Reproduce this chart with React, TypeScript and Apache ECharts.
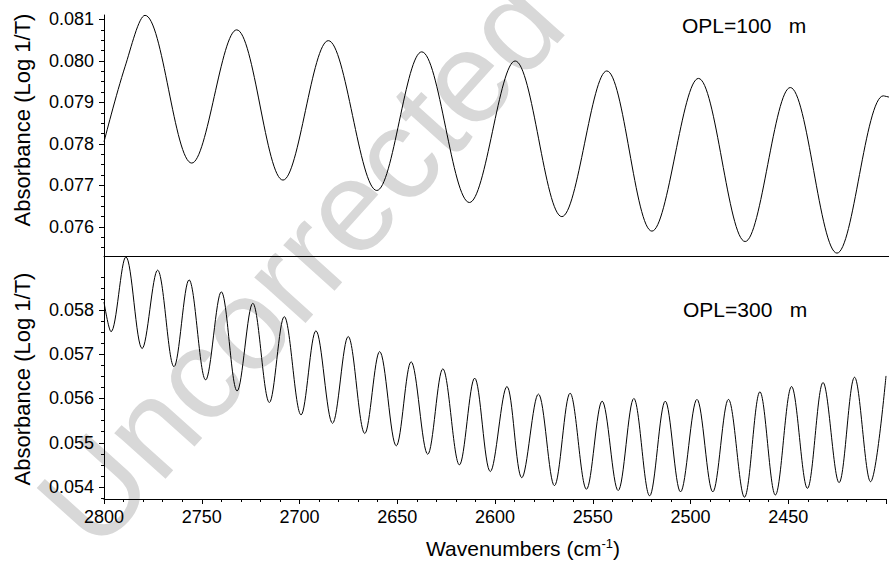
import React, { useEffect, useRef } from "react";
import * as echarts from "echarts";

// ---- data ----
const topWavenumbers = [
  2800.0, 2789.3, 2779.1, 2755.3, 2732.4, 2708.8, 2685.7, 2661.0, 2638.1, 2613.8,
  2590.5, 2566.7, 2543.8, 2520.8, 2497.1, 2473.3, 2450.3, 2426.5, 2402.9, 2400.0,
];
const topAbsorbance = [
  0.07805, 0.07986, 0.0811, 0.07754, 0.08075, 0.07713, 0.08049, 0.07688, 0.08022, 0.07659,
  0.08, 0.07625, 0.07976, 0.0759, 0.07958, 0.07565, 0.07936, 0.07537, 0.07916, 0.07913,
];
const bottomWavenumbers = [
  2800.0, 2796.4, 2788.8, 2780.5, 2772.6, 2764.2, 2756.5, 2748.0, 2740.0, 2731.9,
  2723.9, 2715.4, 2707.8, 2699.2, 2691.6, 2683.1, 2675.1, 2666.6, 2659.0, 2650.5,
  2642.9, 2634.4, 2626.7, 2618.2, 2610.4, 2602.4, 2593.9, 2586.3, 2577.8, 2569.6,
  2561.6, 2553.2, 2545.2, 2537.0, 2529.0, 2520.9, 2512.9, 2505.1, 2496.7, 2488.6,
  2480.6, 2472.4, 2464.5, 2456.6, 2448.3, 2440.2, 2432.2, 2424.0, 2416.1, 2407.9,
  2400.0,
];
const bottomAbsorbance = [
  0.05818, 0.05751, 0.0592, 0.05713, 0.0589, 0.05672, 0.05868, 0.05642, 0.05841, 0.05617,
  0.05815, 0.05591, 0.05785, 0.05563, 0.05753, 0.05544, 0.0574, 0.05521, 0.05706, 0.05493,
  0.05683, 0.05474, 0.05667, 0.0545, 0.05646, 0.05435, 0.05627, 0.05421, 0.0561, 0.05403,
  0.05612, 0.05395, 0.05594, 0.05392, 0.056, 0.0538, 0.05594, 0.05389, 0.05598, 0.05389,
  0.05598, 0.05377, 0.05615, 0.05382, 0.05627, 0.05397, 0.05636, 0.0541, 0.05648, 0.05412,
  0.05651,
];
const topYTicks = [0.076, 0.077, 0.078, 0.079, 0.08, 0.081];
const bottomYTicks = [0.054, 0.055, 0.056, 0.057, 0.058];
const xRange = [2400, 2800];
const topYRange = [0.075301, 0.081108];
const bottomYRange = [0.053729, 0.05922];
const yAxisTitle = "Absorbance (Log 1/T)";
const panelLabels = ["OPL=100   m", "OPL=300   m"];
const watermarkText = "Uncorrected";

const FONT = "'Liberation Sans', Arial, Helvetica, sans-serif";

function minorValues(range: number[], step: number): number[] {
  const out: number[] = [];
  for (let k = Math.ceil(range[0] / step - 1e-9); k * step <= range[1] + 1e-12; k++) {
    if (k % 4 === 0) continue;
    out.push(+(k * step).toFixed(6));
  }
  return out;
}

export default function App() {
  const ref = useRef<HTMLDivElement>(null);
  useEffect(() => {
    document.body.style.margin = "0";
    if (!ref.current) return;
    const chart = echarts.init(ref.current, undefined, { renderer: "svg" });
    const labelStyle = { color: "#000", fontSize: 18, fontFamily: FONT };
    const yMajor = (gridIndex: number, range: number[], ticks: number[]) => ({
      type: "value",
      gridIndex,
      min: range[0],
      max: range[1],
      position: "left",
      axisLine: { show: true, lineStyle: { color: "#000", width: 1 } },
      axisTick: { show: true, length: 5, customValues: ticks, lineStyle: { color: "#000" } },
      axisLabel: {
        ...labelStyle,
        margin: 10,
        customValues: ticks,
        formatter: (v: number) => v.toFixed(3),
      },
      splitLine: { show: false },
    });
    const yMinor = (gridIndex: number, range: number[]) => ({
      type: "value",
      gridIndex,
      min: range[0],
      max: range[1],
      position: "left",
      axisLine: { show: false },
      axisTick: { show: true, length: 3, customValues: minorValues(range, 0.00025), lineStyle: { color: "#000" } },
      axisLabel: { show: false },
      splitLine: { show: false },
    });
    const option: any = {
      animation: false,
      backgroundColor: "#fff",
      grid: [
        { left: 104, right: 0, top: 15, height: 241 },
        { left: 104, right: 0, top: 256, height: 243 },
      ],
      xAxis: [
        {
          type: "value",
          gridIndex: 0,
          min: xRange[0],
          max: xRange[1],
          inverse: true,
          position: "bottom",
          axisLine: { show: true, lineStyle: { color: "#000", width: 1 } },
          axisTick: { show: false },
          axisLabel: { show: false },
          splitLine: { show: false },
        },
        {
          type: "value",
          gridIndex: 1,
          min: xRange[0],
          max: xRange[1],
          interval: 50,
          inverse: true,
          position: "bottom",
          axisLine: { show: true, lineStyle: { color: "#000", width: 1 } },
          axisTick: { show: true, length: 5, lineStyle: { color: "#000" } },
          minorTick: { show: true, splitNumber: 5, length: 3, lineStyle: { color: "#000" } },
          axisLabel: {
            ...labelStyle,
            margin: 9,
            formatter: (v: number) => (v === xRange[0] ? "" : String(v)),
          },
          splitLine: { show: false },
        },
      ],
      yAxis: [
        yMajor(0, topYRange, topYTicks),
        yMinor(0, topYRange),
        yMajor(1, bottomYRange, bottomYTicks),
        yMinor(1, bottomYRange),
      ],
      series: [
        {
          type: "line",
          xAxisIndex: 0,
          yAxisIndex: 0,
          data: topWavenumbers.map((w, i) => [w, topAbsorbance[i]]),
          smooth: 0.35,
          showSymbol: false,
          silent: true,
          lineStyle: { color: "#000", width: 1 },
          z: 5,
        },
        {
          type: "line",
          xAxisIndex: 1,
          yAxisIndex: 2,
          data: bottomWavenumbers.map((w, i) => [w, bottomAbsorbance[i]]),
          smooth: 0.35,
          showSymbol: false,
          silent: true,
          lineStyle: { color: "#000", width: 1 },
          z: 5,
        },
      ],
      graphic: {
        elements: [
          {
            type: "text",
            x: 300,
            y: 262,
            rotation: (48 * Math.PI) / 180,
            z: -10,
            silent: true,
            style: {
              text: watermarkText,
              fontSize: 130,
              fontFamily: FONT,
              fill: "#d8d8d8",
              textAlign: "center",
              textVerticalAlign: "middle",
            },
          },
          {
            type: "text",
            x: 22,
            y: 120,
            rotation: Math.PI / 2,
            z: 10,
            style: {
              text: yAxisTitle,
              fontSize: 22,
              fontFamily: FONT,
              fill: "#000",
              textAlign: "center",
              textVerticalAlign: "middle",
            },
          },
          {
            type: "text",
            x: 22,
            y: 379,
            rotation: Math.PI / 2,
            z: 10,
            style: {
              text: yAxisTitle,
              fontSize: 22,
              fontFamily: FONT,
              fill: "#000",
              textAlign: "center",
              textVerticalAlign: "middle",
            },
          },
          {
            type: "text",
            x: 523,
            y: 548,
            z: 10,
            style: {
              text: "{a|Wavenumbers (cm}{s|-1}{a|)}",
              textAlign: "center",
              textVerticalAlign: "middle",
              rich: {
                a: { fontSize: 21, fontFamily: FONT, fill: "#000" },
                s: { fontSize: 13, fontFamily: FONT, fill: "#000", padding: [0, 0, 10, 0] },
              },
            },
          },
          {
            type: "text",
            x: 682,
            y: 25,
            z: 10,
            style: {
              text: panelLabels[0],
              fontSize: 21,
              fontFamily: FONT,
              fill: "#000",
              textAlign: "left",
              textVerticalAlign: "middle",
            },
          },
          {
            type: "text",
            x: 683,
            y: 309,
            z: 10,
            style: {
              text: panelLabels[1],
              fontSize: 21,
              fontFamily: FONT,
              fill: "#000",
              textAlign: "left",
              textVerticalAlign: "middle",
            },
          },
        ],
      },
    };
    chart.setOption(option);
    return () => chart.dispose();
  }, []);
  return <div ref={ref} style={{ width: 889, height: 561 }} />;
}
